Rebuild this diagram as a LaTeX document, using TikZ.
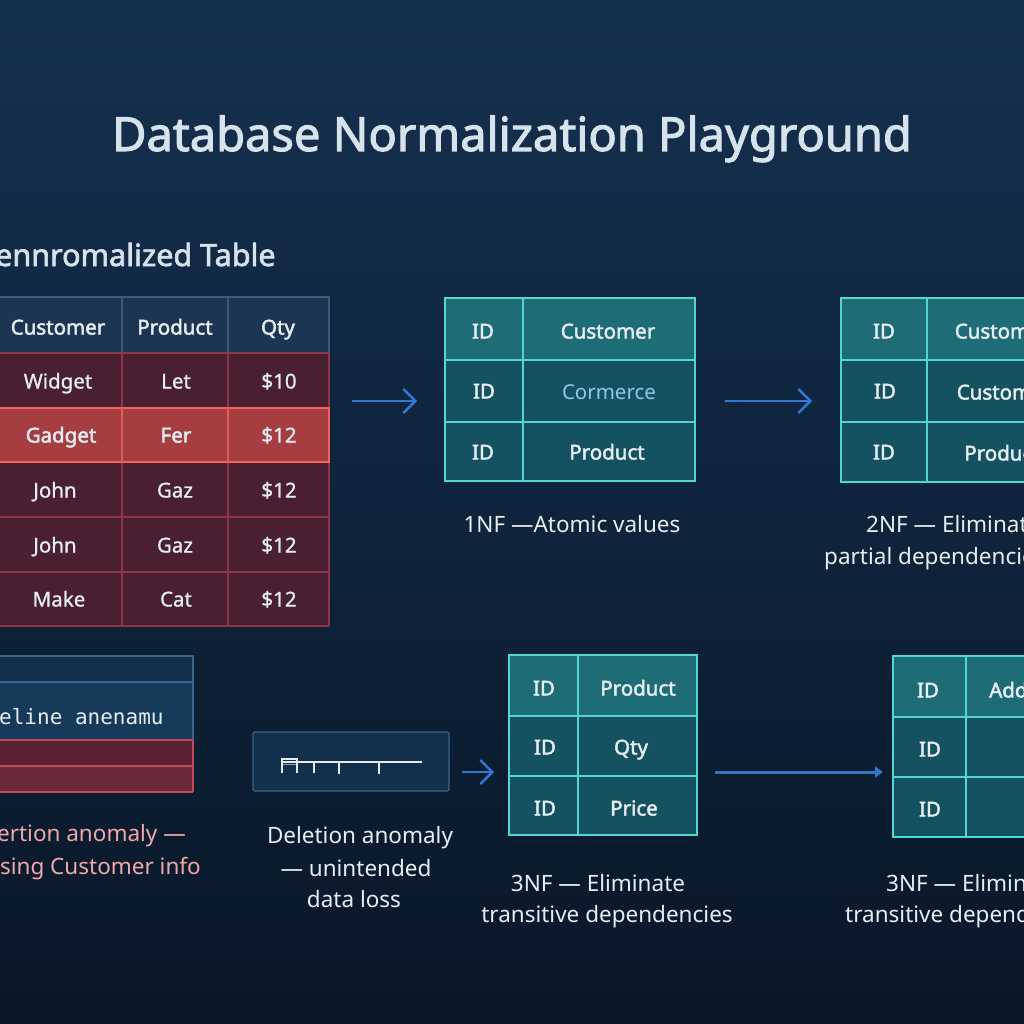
\documentclass[tikz,border=0pt]{standalone}
\usepackage{fontspec}
\setmainfont{Noto Sans}
\newfontfamily\semib[FakeBold=2.2]{Noto Sans}
\newfontfamily\medf[FakeBold=1.0]{Noto Sans}
\newfontfamily\monof{DejaVu Sans Mono}
\usetikzlibrary{arrows.meta}
\definecolor{bgtop}{HTML}{15304F}
\definecolor{bgbot}{HTML}{091728}
\definecolor{titlec}{HTML}{D6E2EC}
\definecolor{txt}{HTML}{E6EEF4}
\definecolor{hdrfill}{HTML}{1C3552}
\definecolor{hdrline}{HTML}{3D5A7A}
\definecolor{maroon}{HTML}{4A1F31}
\definecolor{maroonline}{HTML}{8A3848}
\definecolor{hlfill}{HTML}{A53D41}
\definecolor{hlline}{HTML}{F0665F}
\definecolor{tealhead}{HTML}{1E6C75}
\definecolor{tealbody}{HTML}{155261}
\definecolor{tealline}{HTML}{52D6CF}
\definecolor{arrowblue}{HTML}{2E7AD6}
\definecolor{arrowblue2}{HTML}{3576C4}
\definecolor{pinklab}{HTML}{F2A6A8}
\definecolor{lightblue}{HTML}{8CC8F0}
\definecolor{boxfill}{HTML}{12304C}
\definecolor{boxline}{HTML}{3C6486}
\definecolor{bandfill}{HTML}{163A5A}
\definecolor{redrow1}{HTML}{5A2133}
\definecolor{redrow2}{HTML}{6B2839}
\definecolor{redline}{HTML}{C04A58}
\tikzset{
  cellt/.style={font=\semib\fontsize{20.5}{25}\selectfont, text=txt, inner sep=0pt, text height=15pt, text depth=0pt, anchor=center},
  cellr/.style={cellt, font=\medf\fontsize{20.5}{25}\selectfont},
  lab/.style={font=\fontsize{22.5}{27}\selectfont, text=txt, inner sep=0pt, anchor=base},
  outline/.style={inner sep=0pt, outer sep=0pt, anchor=north west},
  arr/.style={draw=arrowblue, line width=2.4pt, -{Straight Barb[length=12pt,width=24pt,line width=2.4pt]}},
  arrb/.style={draw=arrowblue2, line width=3pt, -{Triangle[length=8pt,width=11pt]}},
  tealgrid/.style={draw=tealline, line width=1.6pt},
}
\begin{document}
\begin{tikzpicture}[x=1pt,y=-1pt]
\useasboundingbox (0,0) rectangle (1024,1024);
\clip (0,0) rectangle (1024,1024);
\shade[top color=bgtop, bottom color=bgbot] (0,0) rectangle (1024,1024);

% title
\node[font=\semib\fontsize{47}{56}\selectfont, text=titlec, inner sep=0pt, anchor=base] (title) at (512,151) {Database Normalization Playground};

% denormalized heading
\node[font=\semib\fontsize{30.5}{36}\selectfont, text=titlec, inner sep=0pt, anchor=base west] (dhead) at (-5,266) {ennromalized Table};

% denormalized table
\fill[hdrfill] (-8,297) rectangle (329,353);
\fill[maroon] (-8,353) rectangle (329,626);
\fill[hlfill] (-8,408) rectangle (329,462);
\draw[hdrline, line width=1.2pt] (-8,297) -- (329,297) -- (329,353) (122,297) -- (122,353) (228,297) -- (228,353);
\draw[maroonline, line width=1.2pt] (-8,353) -- (329,353) (-8,517) -- (329,517) (-8,572) -- (329,572) (-8,626) -- (329,626)
  (122,353) -- (122,626) (228,353) -- (228,626) (329,353) -- (329,626);
\draw[hlline, line width=1.6pt] (-8,408) rectangle (329,462);
\draw[hlline!80!hlfill, line width=1.2pt] (122,408) -- (122,462) (228,408) -- (228,462);
\node[outline, minimum width=337pt, minimum height=329pt] (t0) at (-8,297) {};
\node[cellt] (d01) at (58,327) {Customer};
\node[cellt] (d02) at (175,327) {Product};
\node[cellt] (d03) at (278,327) {Qty};
\node[cellr] (d11) at (58,381) {Widget};
\node[cellr] (d12) at (176,381) {Let};
\node[cellr] (d13) at (279,381) {\$10};
\node[cellt] (d21) at (61,435) {Gadget};
\node[cellt] (d22) at (176,435) {Fer};
\node[cellr] (d23) at (279,435) {\$12};
\node[cellr] (d31) at (55,490) {John};
\node[cellr] (d32) at (175,490) {Gaz};
\node[cellr] (d33) at (279,490) {\$12};
\node[cellr] (d41) at (55,545) {John};
\node[cellr] (d42) at (175,545) {Gaz};
\node[cellr] (d43) at (279,545) {\$12};
\node[cellr] (d51) at (59,599) {Make};
\node[cellr] (d52) at (176,599) {Cat};
\node[cellr] (d53) at (279,599) {\$12};

% 1NF table
\fill[tealbody] (445,298) rectangle (695,481);
\fill[tealhead] (445,298) rectangle (695,360);
\draw[tealgrid] (445,298) rectangle (695,481) (445,360) -- (695,360) (445,422) -- (695,422) (523,298) -- (523,481);
\node[outline, minimum width=250pt, minimum height=183pt] (t1) at (445,298) {};
\node[cellt] (a11) at (483,331) {ID};
\node[cellt] (a12) at (608,331) {Customer};
\node[cellt] (a21) at (484,391) {ID};
\node[cellt, font=\fontsize{20.5}{25}\selectfont, text=lightblue] (a22) at (609,392) {Cormerce};
\node[cellt] (a31) at (483,452) {ID};
\node[cellt] (a32) at (607,452) {Product};
\node[lab] (l1) at (572,532) {1NF —Atomic values};

% 2NF table
\fill[tealbody] (841,298) rectangle (1077,482);
\fill[tealhead] (841,298) rectangle (1077,360);
\draw[tealgrid] (841,298) rectangle (1077,482) (841,360) -- (1077,360) (841,422) -- (1077,422) (927,298) -- (927,482);
\node[outline, minimum width=236pt, minimum height=184pt] (t2) at (841,298) {};
\node[cellt] (b11) at (884,331) {ID};
\node[cellt] (b12) at (1002,331) {Customer};
\node[cellt] (b21) at (885,391) {ID};
\node[cellt] (b22) at (1004,392) {Customer};
\node[cellt] (b31) at (884,452) {ID};
\node[cellt] (b32) at (1002,453) {Product};
\node[lab, anchor=base west] (l2a) at (866,532) {2NF — Eliminate};
\node[lab, anchor=base west] (l2b) at (824,564) {partial dependencies};

% insertion anomaly box
\fill[boxfill] (-8,656) rectangle (193,682);
\fill[bandfill] (-8,682) rectangle (193,740);
\fill[redrow1] (-8,740) rectangle (193,766);
\fill[redrow2] (-8,766) rectangle (193,792);
\draw[boxline, line width=1.3pt] (-8,656) -- (193,656) -- (193,740) (-8,682) -- (193,682);
\draw[redline, line width=1.3pt] (-8,740) -- (193,740) (-8,766) -- (193,766) (-8,792) -- (193,792) (193,740) -- (193,792);
\node[outline, minimum width=201pt, minimum height=136pt] (ibox) at (-8,656) {};
\node[font=\monof\fontsize{21}{25}\selectfont, text=txt, inner sep=0pt, anchor=base west] (itext) at (-1,724) {eline anenamu};
\node[lab, text=pinklab, anchor=base east] (l3a) at (186,841) {Insertion anomaly —};
\node[lab, text=pinklab, anchor=base east] (l3b) at (201,874) {missing Customer info};

% deletion anomaly box
\node[outline, draw=boxline, fill=boxfill, line width=1.3pt, rounded corners=1.5pt, minimum width=196pt, minimum height=59pt] (dbox) at (253,732) {};
\draw[txt, line width=1.3pt] (282,773) -- (282,759) -- (297,759) -- (297,773) (282,762) -- (422,762)
  (314,762) -- (314,773) (339,762) -- (339,774) (379,762) -- (379,774);
\draw[txt!60!boxfill, line width=1pt] (283,764) -- (296,764);
\node[lab] (l4a) at (360,843) {Deletion anomaly};
\node[lab] (l4b) at (356,876) {— unintended};
\node[lab] (l4c) at (354,907) {data loss};

% 3NF table
\fill[tealbody] (509,655) rectangle (697,835);
\fill[tealhead] (509,655) rectangle (697,716);
\draw[tealgrid] (509,655) rectangle (697,835) (509,716) -- (697,716) (509,776) -- (697,776) (578,655) -- (578,835);
\node[outline, minimum width=188pt, minimum height=180pt] (t3) at (509,655) {};
\node[cellt] (c11) at (544,688) {ID};
\node[cellt] (c12) at (638,688) {Product};
\node[cellt] (c21) at (545,747) {ID};
\node[cellt] (c22) at (631,747) {Qty};
\node[cellt] (c31) at (545,808) {ID};
\node[cellt] (c32) at (634,808) {Price};
\node[lab] (l5a) at (598,891) {3NF — Eliminate};
\node[lab] (l5b) at (607,922) {transitive dependencies};

% 3NF table 2
\fill[tealbody] (893,656) rectangle (1090,837);
\fill[tealhead] (893,656) rectangle (1090,717);
\draw[tealgrid] (893,656) rectangle (1090,837) (893,717) -- (1090,717) (893,777) -- (1090,777) (966,656) -- (966,837);
\node[outline, minimum width=197pt, minimum height=181pt] (t4) at (893,656) {};
\node[cellt] (e11) at (928,690) {ID};
\node[cellt] (e12) at (1028,690) {Address};
\node[cellt] (e21) at (930,749) {ID};
\node[cellt] (e31) at (930,809) {ID};
\node[lab, anchor=base west] (l6a) at (886,891) {3NF — Eliminate};
\node[lab, anchor=base west] (l6b) at (845,922) {transitive dependencies};

% connectors
\coordinate (r1) at (0,401);
\coordinate (r2) at (0,772);
\draw[arr, shorten <=23pt, shorten >=28pt] (t0.east |- r1) -- (t1.west |- r1);
\draw[arr, shorten <=30pt, shorten >=29pt] (t1.east |- r1) -- (t2.west |- r1);
\draw[arr, shorten <=13pt, shorten >=15pt] (dbox.east |- r2) -- (t3.west |- r2);
\draw[arrb, shorten <=18pt, shorten >=10pt] (t3.east |- r2) -- (t4.west |- r2);
\end{tikzpicture}
\end{document}
